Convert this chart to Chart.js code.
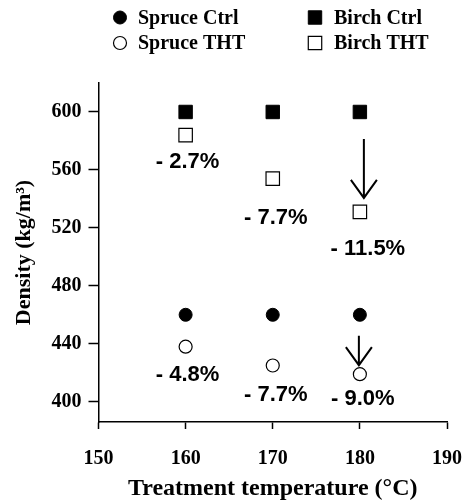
<!DOCTYPE html>
<html>
<head>
<meta charset="utf-8">
<script src="https://cdn.jsdelivr.net/npm/chart.js@4/dist/chart.umd.min.js"></script>
<style>
    html, body { margin: 0; padding: 0; background: #fff; }
    #wrap { width: 467px; height: 501px; position: relative; }
</style>
</head>
<body>
<div id="wrap"><canvas id="densityChart"></canvas></div>
<script>
// ---- data ----
const temps = [160, 170, 180];
const spruceCtrl = [460, 460, 460];
const spruceTHT = [438, 425, 419];
const birchCtrl = [600, 600, 600];
const birchTHT = [584, 554, 531];
const spruceLoss = ['- 4.8%', '- 7.7%', '- 9.0%'];
const birchLoss = ['- 2.7%', '- 7.7%', '- 11.5%'];
const xTicks = [150, 160, 170, 180, 190];
const yTicks = [400, 440, 480, 520, 560, 600];

const serif = '"Liberation Serif", "Times New Roman", serif';
const sans = '"Liberation Sans", Arial, sans-serif';

const toPoints = (vals) => temps.map((t, i) => ({ x: t, y: vals[i] }));

// label offsets (px) from the THT marker they describe
const notes = [
    { set: 3, text: birchLoss, dx: [2, 3, 8], dy: [27, 39, 37] },
    { set: 1, text: spruceLoss, dx: [2, 3, 3], dy: [28, 29, 25] }
];
// arrows at 180 °C: from below the ctrl marker down to the THT marker
const arrows = [
    { ctrl: 2, tht: 3, i: 2, dx: 4, top: 27, bottom: 14 },
    { ctrl: 0, tht: 1, i: 2, dx: -1, top: 21, bottom: 9 }
];

const annotPlugin = {
    id: 'annot',
    afterDatasetsDraw(chart) {
        const ctx = chart.ctx;
        ctx.save();
        ctx.fillStyle = '#000';
        ctx.font = 'bold 22px ' + sans;
        ctx.textAlign = 'center';
        ctx.textBaseline = 'middle';
        notes.forEach(n => {
            const meta = chart.getDatasetMeta(n.set);
            meta.data.forEach((pt, i) => {
                ctx.fillText(n.text[i], pt.x + n.dx[i], pt.y + n.dy[i]);
            });
        });

        ctx.strokeStyle = '#000';
        ctx.lineWidth = 2;
        arrows.forEach(a => {
            const c = chart.getDatasetMeta(a.ctrl).data[a.i];
            const t = chart.getDatasetMeta(a.tht).data[a.i];
            const x = c.x + a.dx;
            const y0 = c.y + a.top;
            const y1 = t.y - a.bottom;
            ctx.beginPath();
            ctx.moveTo(x, y0);
            ctx.lineTo(x, y1);
            ctx.moveTo(x - 13, y1 - 18);
            ctx.lineTo(x, y1);
            ctx.lineTo(x + 13, y1 - 18);
            ctx.stroke();
        });
        ctx.restore();
    },
    afterDraw(chart) {
        // two-column legend at the top
        const ctx = chart.ctx;
        const markX = [120, 315];
        const textX = [138, 334];
        const rowY = [17.5, 43];
        ctx.save();
        ctx.font = 'bold 20px ' + serif;
        ctx.textBaseline = 'middle';
        ctx.textAlign = 'left';
        chart.data.datasets.forEach((ds, i) => {
            const col = Math.floor(i / 2), row = i % 2;
            ctx.fillStyle = ds.backgroundColor;
            ctx.strokeStyle = ds.borderColor;
            ctx.lineWidth = ds.borderWidth;
            Chart.helpers.drawPoint(ctx, {
                pointStyle: ds.pointStyle,
                radius: ds.pointRadius,
                rotation: 0,
                borderWidth: ds.borderWidth
            }, markX[col], rowY[row]);
            ctx.fillStyle = '#000';
            ctx.fillText(ds.label, textX[col], rowY[row] + 1);
        });
        ctx.restore();
    }
};

const axisFont = { family: serif, weight: 'bold', size: 20 };
const titleFont = { family: serif, weight: 'bold', size: 24, lineHeight: 1 };

new Chart(document.getElementById('densityChart'), {
    type: 'scatter',
    data: {
        datasets: [
            { label: 'Spruce Ctrl', data: toPoints(spruceCtrl), pointStyle: 'circle', pointRadius: 6.5,
              backgroundColor: '#000', borderColor: '#000', borderWidth: 1 },
            { label: 'Spruce THT', data: toPoints(spruceTHT), pointStyle: 'circle', pointRadius: 6.5,
              backgroundColor: '#fff', borderColor: '#000', borderWidth: 1.2 },
            { label: 'Birch Ctrl', data: toPoints(birchCtrl), pointStyle: 'rect', pointRadius: 9.5,
              backgroundColor: '#000', borderColor: '#000', borderWidth: 1 },
            { label: 'Birch THT', data: toPoints(birchTHT), pointStyle: 'rect', pointRadius: 9.5,
              backgroundColor: '#fff', borderColor: '#000', borderWidth: 1.2 }
        ]
    },
    options: {
        responsive: true,
        maintainAspectRatio: false,
        animation: false,
        layout: { padding: { top: 83, right: 20, left: 0, bottom: 0 } },
        plugins: {
            legend: { display: false },
            tooltip: { enabled: false }
        },
        scales: {
            x: {
                type: 'linear',
                min: 150,
                max: 190,
                afterBuildTicks: s => { s.ticks = xTicks.map(v => ({ value: v })); },
                afterFit: s => { s.height = 79; s.paddingLeft = 0; s.paddingRight = 0; },
                grid: { drawOnChartArea: false, drawTicks: true, tickLength: 7, tickWidth: 1.5, tickColor: '#000' },
                border: { display: true, color: '#000', width: 1.5 },
                ticks: { color: '#000', font: axisFont, padding: 18, maxRotation: 0 },
                title: { display: true, text: 'Treatment temperature (°C)', color: '#000', font: titleFont, padding: { top: 0, bottom: 0 } }
            },
            y: {
                type: 'linear',
                min: 386,
                max: 620,
                afterBuildTicks: s => { s.ticks = yTicks.map(v => ({ value: v })); },
                afterFit: s => { s.width = 98.5; },
                grid: { drawOnChartArea: false, drawTicks: true, tickLength: 10, tickWidth: 1.5, tickColor: '#000' },
                border: { display: true, color: '#000', width: 1.5 },
                ticks: { color: '#000', font: axisFont, padding: 7 },
                title: { display: true, text: 'Density (kg/m³)', color: '#000', font: { family: serif, weight: 'bold', size: 22, lineHeight: 1 }, padding: { top: 13, bottom: 0 } }
            }
        }
    },
    plugins: [annotPlugin]
});
</script>
</body>
</html>
